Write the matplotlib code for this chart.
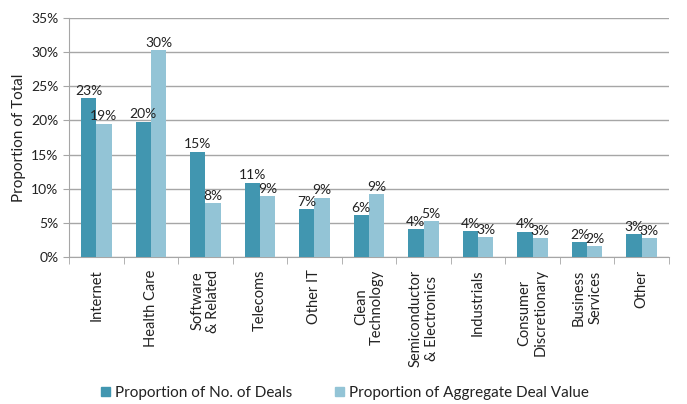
import matplotlib
matplotlib.use("Agg")
import matplotlib.pyplot as plt
import numpy as np
from matplotlib.ticker import FuncFormatter, FixedLocator
from matplotlib.patches import Patch

categories = ["Internet", "Health Care", "Software\n& Related", "Telecoms", "Other IT",
              "Clean\nTechnology", "Semiconductor\n& Electronics", "Industrials",
              "Consumer\nDiscretionary", "Business\nServices", "Other"]
deals = [23.3, 19.8, 15.4, 10.9, 7.0, 6.1, 4.1, 3.8, 3.7, 2.2, 3.3]
value = [19.5, 30.3, 7.9, 8.9, 8.7, 9.2, 5.2, 2.9, 2.8, 1.6, 2.8]
series_names = ["Proportion of No. of Deals", "Proportion of Aggregate Deal Value"]
labels_deals = ["23%", "20%", "15%", "11%", "7%", "6%", "4%", "4%", "4%", "2%", "3%"]
labels_value = ["19%", "30%", "8%", "9%", "9%", "9%", "5%", "3%", "3%", "2%", "3%"]

plt.rcParams['font.family'] = ['Lato', 'DejaVu Sans']
dark = "#4196B0"
light = "#93C4D6"
gridc = "#A6A6A6"

fig = plt.figure(figsize=(6.87, 4.04), dpi=100)
ax = fig.add_axes([69/687, 1-257/404, 600/687, 239/404])

x = np.arange(len(categories))
w = 0.28
b1 = ax.bar(x - w/2, deals, w, color=dark, zorder=3)
b2 = ax.bar(x + w/2, value, w, color=light, zorder=3)
for rect, lab in zip(b1, labels_deals):
    ax.text(rect.get_x() + rect.get_width()/2, rect.get_height() + 0.2, lab,
            ha="center", va="bottom", fontsize=10, color="#222222", zorder=4)
for rect, lab in zip(b2, labels_value):
    ax.text(rect.get_x() + rect.get_width()/2, rect.get_height() + 0.2, lab,
            ha="center", va="bottom", fontsize=10, color="#222222", zorder=4)

ax.set_xlim(-0.5, len(categories) - 0.5)
ax.set_ylim(0, 35)
ax.set_yticks(np.arange(0, 36, 5))
ax.yaxis.set_major_formatter(FuncFormatter(lambda v, p: f"{int(v)}%"))
ax.yaxis.grid(True, color=gridc, linewidth=1, zorder=0)
ax.set_axisbelow(True)

ax.set_xticks(x)
ax.set_xticklabels(categories, rotation=90, fontsize=10.5, va="top", ha="center",
                   multialignment="center", color="#222222")
ax.tick_params(axis="x", length=0, pad=9)
ax.xaxis.set_minor_locator(FixedLocator(np.arange(-0.5, len(categories), 1.0)))
ax.tick_params(axis="x", which="minor", length=5, color=gridc)
ax.tick_params(axis="y", length=4, color=gridc, labelsize=10, labelcolor="#222222")

for s in ["top", "right"]:
    ax.spines[s].set_visible(False)
ax.spines["left"].set_color(gridc)
ax.spines["bottom"].set_color(gridc)

ax.set_ylabel("Proportion of Total", fontsize=11, color="#222222")

handles = [Patch(color=dark), Patch(color=light)]
fig.legend(handles, series_names, loc="center", bbox_to_anchor=(345/687, 1-393/404),
           ncol=2, frameon=False, fontsize=11, handlelength=0.6, handleheight=0.6,
           handletextpad=0.3, columnspacing=2.8, labelcolor="#222222")

fig.savefig("out.png", dpi=100)
